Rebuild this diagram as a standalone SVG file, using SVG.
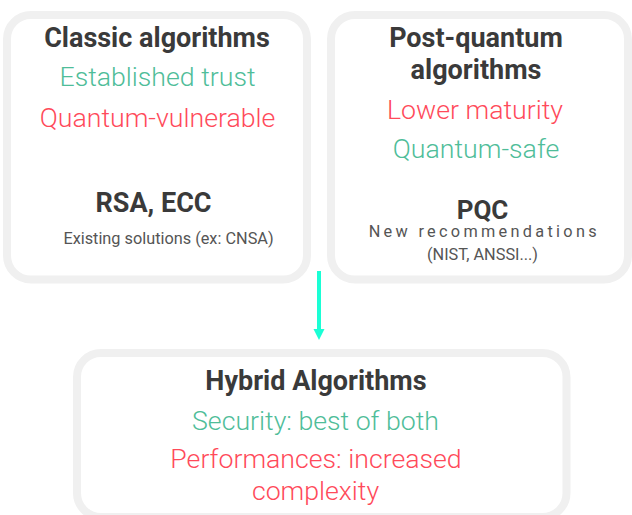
<svg xmlns="http://www.w3.org/2000/svg" width="632" height="515" viewBox="0 0 632 515">
<style>
.box{fill:#ffffff;stroke:#f0f0f0;stroke-width:8}
text{font-family:Roboto,"Liberation Sans",sans-serif;text-anchor:middle}
.t{font-weight:700;font-size:27px;fill:#3a3a3a}
.g{font-weight:300;font-size:26.7px;fill:#4fbd99}
.r{font-weight:300;font-size:26.7px;fill:#ff4a5a}
.s{font-weight:400;font-size:16.3px;fill:#555555}
.conn{stroke:#1affd5;stroke-width:4;fill:none}
</style>
<rect width="632" height="515" fill="#ffffff"/>
<g id="classic">
<rect class="box" x="7" y="15" width="300" height="264.5" rx="24"/>
<text class="t" x="157" y="47">Classic algorithms</text>
<text class="g" x="157.5" y="85.5">Established trust</text>
<text class="r" x="157.5" y="126.5">Quantum-vulnerable</text>
<text class="t" x="153.5" y="211.5">RSA, ECC</text>
<text class="s" x="168.5" y="244">Existing solutions (ex: CNSA)</text>
</g>
<g id="pqc">
<rect class="box" x="331" y="15" width="297" height="264.5" rx="24"/>
<text class="t" x="476" y="47">Post-quantum</text>
<text class="t" x="476" y="78.5">algorithms</text>
<text class="r" x="475" y="118.5">Lower maturity</text>
<text class="g" x="476" y="158">Quantum-safe</text>
<text class="t" x="482.5" y="218.5" style="font-size:26px">PQC</text>
<text class="s" x="484.3" y="236.5" style="letter-spacing:3.3px">New recommendations</text>
<text class="s" x="482.5" y="260">(NIST, ANSSI...)</text>
</g>
<g id="hybrid">
<rect class="box" x="77" y="353" width="489.5" height="164" rx="24"/>
<text class="t" x="316" y="390">Hybrid Algorithms</text>
<text class="g" x="315.5" y="429.5">Security: best of both</text>
<text class="r" x="316" y="468">Performances: increased</text>
<text class="r" x="315.5" y="500">complexity</text>
</g>
<g id="connectors">
<line class="conn" x1="319" y1="271" x2="319" y2="329"/>
<path d="M313.5,329 L324.5,329 L319,340 Z" fill="#1affd5"/>
</g>
</svg>
